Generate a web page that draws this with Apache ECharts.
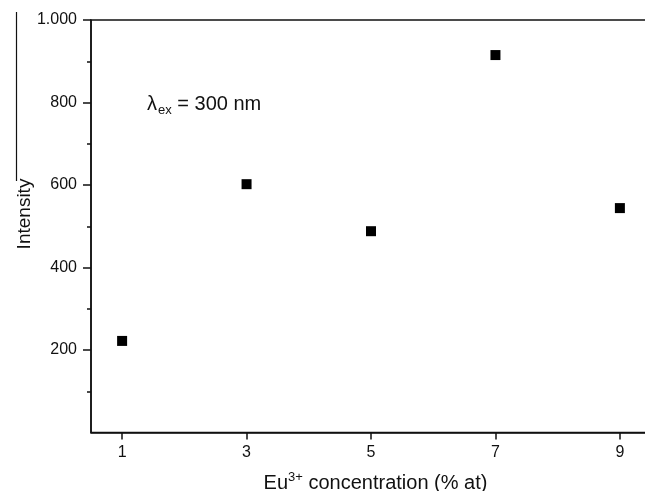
<!DOCTYPE html>
<html>
<head>
<meta charset="utf-8">
<script src="https://cdn.jsdelivr.net/npm/echarts@6/dist/echarts.min.js"></script>
<style>html,body{margin:0;padding:0;background:#fff}#c{width:645px;height:491px}</style>
</head>
<body>
<div id="c"></div>
<script>
var concentrations = [1, 3, 5, 7, 9];
var intensities = [222, 602, 488, 915, 544];
var xTicks = [1, 3, 5, 7, 9];
var yTicks = [200, 400, 600, 800, 1000];

var chart = echarts.init(document.getElementById('c'), null, {renderer: 'canvas'});
var font = 'Liberation Sans, Arial, sans-serif';
chart.setOption({
  animation: false,
  backgroundColor: '#fff',
  grid: {left: 91, top: 20, width: 560, height: 412.5, outerBoundsMode: 'none', containLabel: false,
    show: true, borderColor: '#111', borderWidth: 1.5},
  xAxis: {
    type: 'value', min: 0.5, max: 9.5,
    axisLine: {lineStyle: {color: '#111', width: 1.5}},
    axisTick: {customValues: xTicks, length: 7, lineStyle: {color: '#111', width: 1.5}},
    axisLabel: {customValues: xTicks, color: '#111', fontSize: 16, fontFamily: font, margin: 12},
    splitLine: {show: false},
    name: '{n|Eu}{s|3+}{n| concentration (% at)}',
    nameLocation: 'middle', nameGap: 38,
    nameTextStyle: {padding: [0, 0, 0, 9], rich: {
      n: {fontSize: 20, fontFamily: font, color: '#111'},
      s: {fontSize: 13, fontFamily: font, color: '#111', verticalAlign: 'top', padding: [0,0,12,0]}
    }}
  },
  yAxis: {
    type: 'value', min: 0, max: 1000, interval: 200,
    axisLine: {show: true, lineStyle: {color: '#111', width: 1.5}},
    axisTick: {customValues: yTicks, length: 8, lineStyle: {color: '#111', width: 1.5}},
    minorTick: {show: true, splitNumber: 2, length: 4, lineStyle: {color: '#111', width: 1.5}},
    axisLabel: {customValues: yTicks, color: '#111', fontSize: 16, fontFamily: font, margin: 14,
      formatter: function (v) { return v === 1000 ? '1.000' : String(v); }},
    splitLine: {show: false}
  },
  series: [{
    type: 'scatter',
    data: concentrations.map(function (c, i) { return [c, intensities[i]]; }),
    symbol: 'rect', symbolSize: 10,
    itemStyle: {color: '#000', opacity: 1}
  }],
  graphic: [
    {type: 'text', x: 25, y: 214, rotation: Math.PI / 2,
      style: {text: 'Intensity', fontSize: 19, fontFamily: font, fill: '#111', align: 'center', verticalAlign: 'middle'}},
    {type: 'line', shape: {x1: 16.5, y1: 12, x2: 16.5, y2: 181}, style: {stroke: '#111', lineWidth: 1.2}},
    {type: 'text', x: 147, y: 104,
      style: {rich: {
        n: {fontSize: 20, fontFamily: font, fill: '#111'},
        s: {fontSize: 13, fontFamily: font, fill: '#111', verticalAlign: 'bottom', padding: [13,0,0,1]}
      }, text: '{n|λ}{s|ex}{n| = 300 nm}', verticalAlign: 'middle'}}
  ]
});
</script>
</body>
</html>
